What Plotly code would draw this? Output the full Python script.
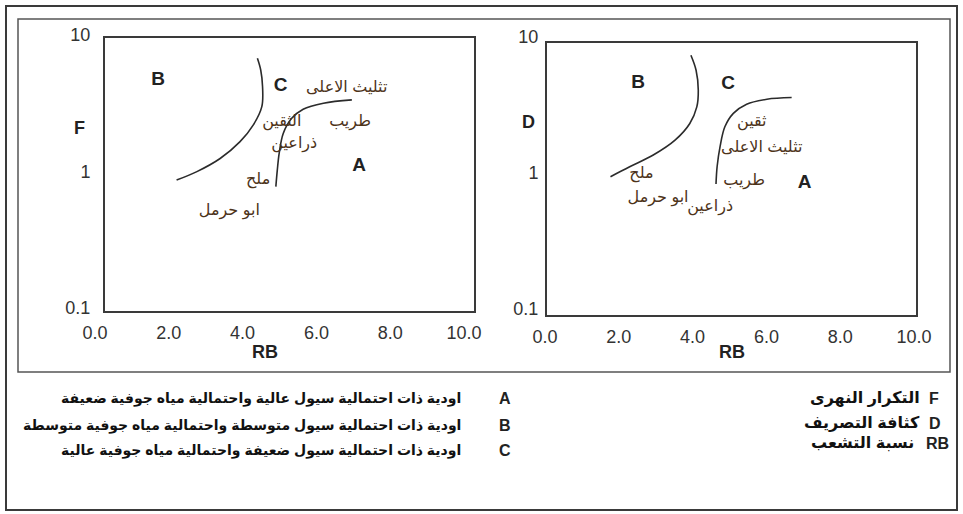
import plotly.graph_objects as go

W, H = 963, 514

# boundary curves, left panel (F vs RB)
left_b_rb = [1.94, 2.49, 3.12, 3.66, 4.02, 4.25, 4.27, 4.22, 4.13]
left_b_f = [0.91, 1.05, 1.31, 1.74, 2.31, 3.14, 4.40, 5.83, 7.10]
left_a_rb = [4.63, 4.67, 4.72, 4.83, 5.06, 5.37, 5.92, 6.69]
left_a_f = [0.815, 1.08, 1.43, 2.00, 2.58, 3.01, 3.33, 3.52]

# boundary curves, right panel (D vs RB)
right_b_rb = [1.72, 2.24, 2.88, 3.47, 3.87, 4.06, 4.10, 4.04, 3.90]
right_b_d = [1.04, 1.23, 1.50, 1.93, 2.56, 3.39, 4.50, 6.31, 8.13]
right_a_rb = [4.58, 4.61, 4.69, 4.82, 5.05, 5.41, 5.96, 6.63]
right_a_d = [0.919, 1.23, 1.73, 2.42, 3.04, 3.55, 3.86, 3.97]

# wadis
left_names = ['تثليث الاعلى', 'الثقين', 'طريب', 'ذراعين', 'ملح', 'ابو حرمل']
left_rb = [6.55, 4.79, 6.64, 5.13, 4.15, 3.37]
left_f = [4.29, 2.44, 2.44, 1.67, 0.91, 0.54]

right_names = ['ثقين', 'تثليث الاعلى', 'ملح', 'طريب', 'ابو حرمل', 'ذراعين']
right_rb = [5.55, 5.82, 2.56, 5.34, 3.01, 4.42]
right_d = [2.63, 1.68, 1.09, 0.97, 0.72, 0.62]

# zone letters
zones = ['B', 'C', 'A']
left_zone_rb = [1.44, 4.76, 6.89]
left_zone_f = [4.92, 4.45, 1.14]
right_zone_rb = [2.47, 4.91, 6.98]
right_zone_d = [5.03, 4.98, 0.93]

x_ticks = [0, 2, 4, 6, 8, 10]
x_ticktext = ['0.0', '2.0', '4.0', '6.0', '8.0', '10.0']
y_ticks = [0.1, 1, 10]
y_ticktext = ['0.1', '1', '10']

legend_zones = [
    ('A', 'اودية ذات احتمالية سيول عالية واحتمالية مياه جوفية ضعيفة'),
    ('B', 'اودية ذات احتمالية سيول متوسطة واحتمالية مياه جوفية متوسطة'),
    ('C', 'اودية ذات احتمالية سيول ضعيفة واحتمالية مياه جوفية عالية'),
]
legend_vars = [
    ('F', 'التكرار النهرى'),
    ('D', 'كثافة التصريف'),
    ('RB', 'نسبة التشعب'),
]

FONT = 'Arial, Liberation Sans, DejaVu Sans'
LINE = '#2b2b2b'
NAME_COLOR = '#4d3319'


def px(x):
    return x / W


def py(y):
    return 1 - y / H


def label(x, y, text, size, bold=False, xanchor='center', color='#222222'):
    # paper-pixel annotation, anchors set explicitly (paper 'auto' anchoring shifts text)
    fig.add_annotation(x=px(x), y=py(y), xref='paper', yref='paper', text=text,
                       xanchor=xanchor, yanchor='middle', showarrow=False,
                       font=dict(family=FONT, size=size, color=color,
                                 weight='bold' if bold else 'normal'))


fig = go.Figure()

panels = [
    ('x', 'y', left_b_rb, left_b_f, left_a_rb, left_a_f, left_names, left_rb, left_f, left_zone_rb, left_zone_f),
    ('x2', 'y2', right_b_rb, right_b_d, right_a_rb, right_a_d, right_names, right_rb, right_d, right_zone_rb, right_zone_d),
]

for xa, ya, brb, bv, arb, av, names, nrb, nv, zrb, zv in panels:
    for cx, cy in [(brb, bv), (arb, av)]:
        fig.add_trace(go.Scatter(
            x=cx, y=cy, xaxis=xa, yaxis=ya, mode='lines',
            line=dict(color=LINE, width=1.6, shape='spline'),
            showlegend=False, hoverinfo='skip'
        ))
    fig.add_trace(go.Scatter(
        x=nrb, y=nv, xaxis=xa, yaxis=ya, mode='text', text=names,
        textfont=dict(family=FONT, size=16, color=NAME_COLOR),
        showlegend=False
    ))
    fig.add_trace(go.Scatter(
        x=zrb, y=zv, xaxis=xa, yaxis=ya, mode='text', text=zones,
        textfont=dict(family=FONT, size=19, color='#222222', weight='bold'),
        showlegend=False
    ))

axis_x = dict(
    range=[0, 10], tickvals=x_ticks, ticktext=x_ticktext,
    showgrid=False, zeroline=False, showline=True, mirror=True,
    linecolor='#3a3a3a', linewidth=2, ticks='', automargin=False,
    tickfont=dict(family=FONT, size=18, color='#333333'),
)
axis_y = dict(
    type='log', range=[-1, 1], tickvals=y_ticks, ticktext=y_ticktext,
    showgrid=False, zeroline=False, showline=True, mirror=True,
    linecolor='#3a3a3a', linewidth=2, ticks='', automargin=False,
    tickfont=dict(family=FONT, size=18, color='#333333'),
)

fig.update_layout(
    width=W, height=H,
    margin=dict(l=0, r=0, t=0, b=0, autoexpand=False),
    plot_bgcolor='white', paper_bgcolor='white',
    xaxis=dict(axis_x, domain=[px(105), px(474)], anchor='y', ticklabelshift=-10, ticklabelstandoff=4),
    yaxis=dict(axis_y, domain=[py(311), py(38)], anchor='x', ticklabelstandoff=9, ticklabelshift=-3),
    xaxis2=dict(axis_x, domain=[px(547), px(916)], anchor='y2', ticklabelshift=-2, ticklabelstandoff=4),
    yaxis2=dict(axis_y, domain=[py(315), py(43)], anchor='x2', ticklabelstandoff=3, ticklabelshift=-6),
)

# frames
fig.add_shape(type='rect', xref='paper', yref='paper',
              x0=px(6), x1=px(957), y0=py(510), y1=py(6),
              line=dict(color='#3a3a3a', width=2))
fig.add_shape(type='rect', xref='paper', yref='paper',
              x0=px(18), x1=px(950), y0=py(372), y1=py(19),
              line=dict(color='#555555', width=1.5))

# axis letters
for txt, x, y in [('F', 79, 128), ('RB', 265, 352), ('D', 528, 122), ('RB', 732, 352)]:
    label(x, y, txt, 18, bold=True)

# legend below
for i, (k, t) in enumerate(legend_zones):
    yy = [398, 425, 450][i]
    label(505, yy, k, 16, bold=True)
    label(463, yy, t, 14, bold=True, xanchor='right', color='#111111')

for i, (k, t) in enumerate(legend_vars):
    yy = [398, 423, 443][i]
    kx = [927, 927, 924][i]
    tx = [922, 922, 916][i]
    label(kx, yy, k, 16, bold=True, xanchor='left')
    label(tx, yy, t, 16, bold=True, xanchor='right', color='#111111')

fig.write_html('out.html', config={'displayModeBar': False},
               post_script="document.body.style.margin='0';")
